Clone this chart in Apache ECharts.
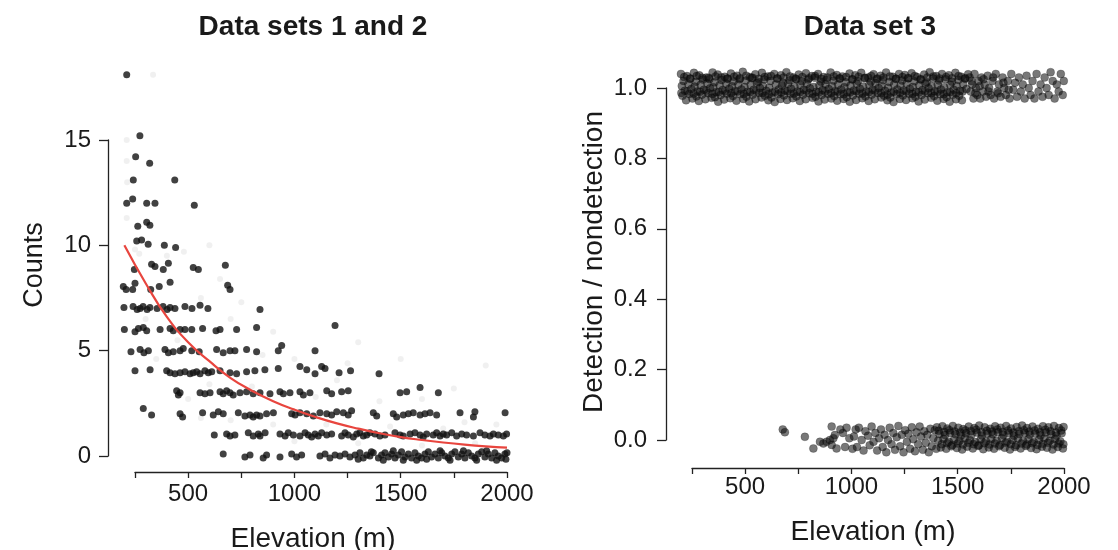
<!DOCTYPE html>
<html><head><meta charset="utf-8">
<script src="https://cdn.jsdelivr.net/npm/echarts@6/dist/echarts.min.js"></script>
<style>html,body{margin:0;padding:0;background:#fff}#c{width:1118px;height:550px}</style>
</head><body><div id="c"></div><script>
// ---------- DATA ----------
const titles = ['Data sets 1 and 2', 'Data set 3'];
const xTitle = 'Elevation (m)';
const yTitles = ['Counts', 'Detection / nondetection'];
const xLabelled = [500, 1000, 1500, 2000];

// Data set 2: counts (elevation, count with small vertical jitter)
const countPts = [
[211,18.1],[273,15.2],[253,14.2],[319,13.9],[242,13.1],[437,13.1],[211,12.0],[239,12.2],[305,12.0],[344,12.0],[529,11.9],
[263,10.9],[305,11.1],[320,10.95],[258,10.2],[281,10.25],[312,10.05],[388,10.0],[441,9.9],[247,8.85],[328,9.1],[344,9.0],
[383,8.85],[407,9.15],[524,8.95],[548,8.85],[675,9.05],[195,8.05],[208,7.9],[239,7.9],[250,8.2],[324,7.9],[364,8.05],
[415,8.25],[686,8.1],[697,7.9],
[198,7.05],[241,7.1],[260,6.95],[274,7.0],[288,7.1],[307,6.95],[320,7.05],[354,7.0],[382,7.1],[401,6.95],[415,7.05],
[438,7.0],[485,7.1],[518,7.0],[556,7.15],[593,7.0],[838,6.95],
[200,6.0],[250,5.9],[266,6.05],[289,6.1],[305,5.95],[368,6.0],[415,6.05],[430,5.95],[462,6.0],[485,6.0],[517,6.0],
[568,6.05],[631,5.95],[650,6.0],[728,6.0],[822,6.1],[1191,6.2],
[231,4.95],[274,5.05],[292,4.9],[313,5.0],[391,5.05],[407,4.9],[430,4.95],[462,5.0],[477,5.1],[517,5.0],[552,4.95],
[634,5.05],[665,4.9],[697,5.0],[720,5.0],[775,5.05],[822,4.95],[924,5.0],[940,5.25],[1097,5.0],
[250,4.05],[321,4.1],[399,4.05],[415,3.95],[438,3.9],[462,3.95],[485,4.0],[509,3.9],[524,3.95],[540,4.0],[556,3.9],
[579,4.05],[595,3.95],[611,4.0],[650,4.05],[697,3.95],[728,3.9],[775,4.0],[814,4.05],[861,4.1],[924,4.15],[1026,4.25],
[1058,4.1],[1097,3.9],[1128,4.25],[1144,4.15],[1210,3.95],[1264,4.05],[1398,3.9],
[446,3.1],[454,2.9],[462,3.0],[556,3.0],[579,2.95],[603,3.0],[650,3.05],[665,2.95],[681,3.1],[697,3.0],[712,2.9],
[744,3.0],[775,3.05],[806,2.95],[838,3.0],[885,2.95],[932,3.05],[948,2.95],[979,3.0],[1026,3.05],[1042,2.9],[1073,3.0],
[1152,3.1],[1175,2.95],[1222,3.05],[1253,3.1],[1497,3.0],[1528,3.05],[1591,3.25],[1677,3.0],
[289,2.25],[328,1.95],[462,2.0],[474,1.85],[568,2.05],[618,1.95],[642,2.1],[665,2.0],[736,2.05],[767,1.9],[791,1.95],
[806,1.85],[822,1.95],[838,1.9],[869,2.0],[901,2.05],[987,2.0],[1003,1.95],[1026,2.05],[1058,2.0],[1089,1.9],[1120,2.05],
[1152,2.0],[1175,1.95],[1199,2.1],[1230,2.05],[1253,1.95],[1269,2.15],[1371,2.05],[1387,1.9],[1465,2.0],[1481,1.85],
[1512,1.95],[1536,2.0],[1559,2.05],[1591,1.95],[1614,2.0],[1638,2.05],[1669,1.95],[1779,2.05],[1842,1.85],[1849,2.1],[1991,2.05],
[623,1.0],[681,1.05],[697,0.95],[720,1.0],[783,1.1],[806,0.95],[830,1.05],[838,0.95],[862,1.1],[932,1.05],[956,0.95],
[971,1.1],[995,1.0],[1026,0.95],[1050,1.1],[1065,1.0],[1081,0.9],[1097,1.05],[1112,0.95],[1128,1.1],[1152,1.0],[1175,1.05],
[1222,0.95],[1238,1.1],[1253,1.0],[1277,0.9],[1293,1.05],[1308,1.1],[1324,0.95],[1340,1.0],[1355,1.1],[1379,1.05],
[1402,0.95],[1426,1.0],[1473,1.1],[1497,1.0],[1512,0.95],[1544,1.05],[1567,1.1],[1591,1.0],[1606,0.9],[1622,1.05],
[1653,1.0],[1669,1.1],[1685,0.95],[1700,1.05],[1716,1.0],[1740,1.1],[1763,0.95],[1787,1.05],[1810,1.0],[1842,0.95],
[1873,1.1],[1896,1.0],[1920,0.95],[1936,1.05],[1959,1.0],[1983,0.95],[1998,1.05],
[665,0.1],[767,-0.05],[791,0.05],[853,-0.1],[869,0.05],[932,-0.05],[987,0.1],[1010,-0.05],[1034,0.05],[1120,0.0],
[1144,0.1],[1167,-0.1],[1191,0.05],[1214,0.0],[1238,0.1],[1261,-0.05],[1285,0.05],[1308,0.15],[1324,-0.1],[1340,0.05],
[1355,0.0],[1371,0.15],[1395,-0.1],[1410,0.05],[1426,0.15],[1442,-0.05],[1457,0.1],[1473,-0.1],[1489,0.05],[1504,0.2],
[1520,-0.05],[1536,0.1],[1551,-0.1],[1567,0.15],[1583,0.0],[1598,-0.1],[1614,0.1],[1630,0.2],[1645,-0.05],[1661,0.1],
[1677,-0.1],[1693,0.15],[1708,0.0],[1724,-0.1],[1740,0.1],[1755,0.2],[1771,-0.05],[1787,0.1],[1802,-0.1],[1818,0.15],
[1834,0.0],[1849,-0.1],[1865,0.1],[1881,0.2],[1896,-0.05],[1912,0.1],[1928,-0.1],[1943,0.15],[1959,0.0],[1975,-0.1],
[1990,0.1],[2000,0.15],[1300,-0.15],[1362,0.2],[1418,-0.2],[1465,0.25],[1512,-0.2],[1575,-0.2],[1622,-0.15],[1685,0.25],
[1732,-0.2],[1795,0.25],[1857,-0.2],[1904,0.25],[1951,-0.2],[1995,-0.15]
];

// Data set 1: faint background points
const faintPts = [
[335,18.1],[211,15.0],[211,14.0],[213,13.0],[211,11.3],[270,9.6],[400,9.5],[480,9.7],[600,10.0],[560,7.5],[700,6.5],
[900,5.9],[1000,4.6],[1200,3.6],[1300,5.4],[1500,4.6],[1600,2.7],[1750,3.2],[1900,4.3],[1800,1.6],[1400,2.6],[1100,2.8],
[800,3.3],[700,1.7],[900,1.5],[1000,0.7],[1300,0.6],[1600,0.5],[1850,0.6],[500,2.7],[600,3.4],[350,4.6],[450,5.5],
[300,6.5],[250,9.8],[650,8.4],[750,7.3],[850,4.8],[1250,4.4],[1950,1.5],[1150,1.5],[1450,1.4],[1700,1.3],[560,1.8]
];

// Fitted curve
const curveElev = [200,300,400,500,600,700,800,900,1000,1100,1200,1300,1400,1500,1600,1700,1800,1900,2000];
const curveVal  = [10.0,8.2,6.6,5.4,4.5,3.7,3.1,2.6,2.2,1.85,1.55,1.3,1.08,0.9,0.76,0.64,0.54,0.46,0.4];

// Data set 3: detections (elevation, jittered 1)
const detPts = [
[198,1.040],[226,1.034],[259,1.043],[284,1.036],[318,1.030],[347,1.044],[371,1.038],[404,1.032],[433,1.041],[461,1.035],[489,1.046],[522,1.031],[548,1.039],[579,1.043],[606,1.033],[637,1.040],[668,1.036],[694,1.045],[727,1.030],[752,1.038],[786,1.042],[814,1.034],[843,1.040],[869,1.031],[902,1.044],[931,1.037],[958,1.033],[991,1.041],[1018,1.036],[1046,1.043],[1079,1.030],[1104,1.039],[1137,1.035],[1163,1.044],[1195,1.032],[1224,1.040],[1251,1.037],[1283,1.042],[1309,1.031],[1342,1.038],[1368,1.045],[1399,1.034],[1426,1.040],[1458,1.036],[1489,1.043],[1517,1.032],[1549,1.039],
[213,1.031],[243,1.027],[272,1.034],[299,1.029],[332,1.025],[361,1.033],[388,1.030],[418,1.026],[448,1.032],[476,1.028],[505,1.035],[535,1.029],[564,1.026],[592,1.031],[622,1.034],[652,1.027],[681,1.030],[711,1.033],[740,1.025],[769,1.031],[800,1.028],[829,1.034],[858,1.026],[887,1.030],[917,1.033],[946,1.027],[975,1.031],[1005,1.025],[1034,1.032],[1064,1.029],[1093,1.034],[1122,1.027],[1151,1.030],[1181,1.033],[1210,1.026],[1240,1.031],[1269,1.028],[1298,1.034],[1327,1.025],[1357,1.030],[1386,1.033],[1415,1.027],[1445,1.031],[1474,1.028],[1504,1.034],[1535,1.026],
[210,1.020],[241,1.026],[268,1.018],[301,1.024],[329,1.029],[356,1.016],[389,1.023],[417,1.027],[446,1.019],[474,1.025],[503,1.021],[531,1.028],[562,1.017],[590,1.024],[619,1.020],[651,1.027],[679,1.015],[709,1.022],[738,1.026],[767,1.019],[797,1.024],[828,1.029],[856,1.018],[884,1.023],[916,1.021],[944,1.027],[974,1.016],[1003,1.024],[1031,1.020],[1062,1.028],[1091,1.018],[1120,1.025],[1149,1.022],[1178,1.017],[1209,1.026],[1238,1.021],[1266,1.028],[1296,1.019],[1325,1.024],[1354,1.016],[1384,1.027],[1412,1.021],[1442,1.025],[1473,1.018],[1503,1.023],[1534,1.028],
[202,1.006],[233,1.011],[262,1.004],[291,1.009],[322,1.013],[350,1.002],[380,1.008],[411,1.012],[438,1.005],[468,1.010],[497,1.003],[526,1.009],[555,1.014],[584,1.006],[613,1.001],[644,1.010],[673,1.007],[702,1.012],[732,1.004],[760,1.009],[790,1.013],[821,1.003],[849,1.008],[878,1.011],[909,1.005],[937,1.010],[967,1.002],[996,1.007],[1025,1.012],[1055,1.004],[1084,1.009],[1113,1.014],[1143,1.006],[1172,1.001],[1201,1.010],[1231,1.007],[1260,1.012],[1289,1.003],[1319,1.008],[1348,1.013],[1377,1.005],[1406,1.010],[1436,1.002],[1465,1.009],[1495,1.006],[1526,1.011],
[216,0.992],[247,0.997],[276,0.990],[306,0.995],[335,0.999],[364,0.988],[394,0.994],[425,0.998],[452,0.991],[483,0.996],[511,0.989],[540,0.995],[570,1.000],[599,0.992],[628,0.987],[658,0.996],[687,0.993],[716,0.998],[746,0.990],[776,0.995],[805,0.999],[835,0.989],[864,0.994],[893,0.997],[923,0.991],[952,0.996],[982,0.988],[1011,0.993],[1040,0.998],[1070,0.990],[1099,0.995],[1128,1.000],[1158,0.992],[1187,0.987],[1216,0.996],[1246,0.993],[1275,0.998],[1304,0.989],[1334,0.994],[1363,0.999],[1392,0.991],[1421,0.996],[1451,0.988],[1481,0.995],[1511,0.992],[1541,0.997],
[200,0.986],[229,0.990],[258,0.984],[288,0.989],[317,0.992],[346,0.983],[376,0.988],[406,0.991],[435,0.985],[464,0.990],[494,0.983],[523,0.988],[552,0.992],[582,0.986],[611,0.982],[641,0.989],[670,0.987],[699,0.991],[729,0.984],[758,0.988],[788,0.992],[817,0.983],[846,0.987],[876,0.990],[905,0.985],[935,0.989],[964,0.982],[993,0.987],[1023,0.991],[1052,0.984],[1082,0.988],[1111,0.992],[1140,0.985],[1170,0.981],[1199,0.989],[1229,0.986],[1258,0.990],[1287,0.983],[1317,0.987],[1346,0.991],[1376,0.985],[1405,0.989],[1434,0.982],[1464,0.988],[1493,0.985],[1523,0.990],
[205,0.978],[237,0.983],[271,0.976],[297,0.981],[326,0.985],[358,0.974],[385,0.980],[414,0.984],[443,0.977],[477,0.982],[506,0.975],[535,0.981],[566,0.986],[593,0.978],[624,0.973],[655,0.982],[683,0.979],[713,0.984],[741,0.976],[772,0.981],[801,0.985],[831,0.975],[860,0.980],[890,0.983],[919,0.977],[948,0.982],[978,0.974],[1007,0.979],[1036,0.984],[1066,0.976],[1095,0.981],[1124,0.986],[1154,0.978],[1183,0.973],[1213,0.982],[1242,0.979],[1271,0.984],[1301,0.975],[1330,0.980],[1360,0.985],[1389,0.977],[1418,0.982],[1448,0.974],[1477,0.981],[1507,0.978],
[222,0.965],[252,0.970],[282,0.963],[313,0.968],[342,0.972],[373,0.961],[401,0.967],[430,0.971],[459,0.964],[491,0.969],[519,0.962],[549,0.968],[577,0.973],[609,0.965],[639,0.960],[666,0.969],[697,0.966],[724,0.971],[757,0.963],[785,0.968],[817,0.972],[845,0.962],[874,0.967],[905,0.970],[933,0.964],[963,0.969],[992,0.961],[1022,0.966],[1051,0.971],[1081,0.963],[1110,0.968],[1140,0.973],[1169,0.965],[1198,0.960],[1228,0.969],[1257,0.966],[1287,0.971],[1316,0.962],[1345,0.967],[1375,0.972],[1404,0.964],[1434,0.969],[1462,0.961],[1492,0.968],[1520,0.965],
[1556,1.03],[1561,0.99],[1568,1.01],[1574,0.97],[1579,1.04],[1586,1.0],[1592,0.98],[1598,1.02],[1606,0.97],[1612,1.03],[1619,0.99],[1627,1.01],[1634,0.975],[1641,1.035],[1648,1.0],[1655,0.98],[1663,1.02],[1671,0.97],[1679,1.04],[1686,0.99],[1694,1.01],[1702,0.975],[1711,1.03],[1719,1.0],[1727,0.98],[1736,1.02],[1744,0.97],[1752,1.04],[1761,0.995],[1770,1.015],[1779,0.975],[1788,1.03],[1797,0.99],[1806,1.01],[1815,0.97],[1824,1.035],[1834,1.0],[1843,0.98],[1852,1.02],[1861,0.97],[1871,1.04],[1880,0.99],[1890,1.01],[1899,0.975],[1909,1.03],[1918,1.0],[1928,0.98],[1937,1.045],[1947,1.02],[1956,0.97],[1966,1.01],[1975,0.99],[1985,1.04],[1994,0.98],[1999,1.02],
[1565,1.02],[1583,0.985],[1603,1.005],[1622,1.025],[1645,0.99],[1667,1.03],[1690,0.985],[1715,1.015],[1740,0.995]
];

// Data set 3: nondetections (elevation, jittered 0)
const nondetPts = [
[677,0.030],[687,0.022],[781,0.009],[821,-0.024],[852,-0.005],[868,-0.010],[883,-0.005],[899,0.000],[907,-0.014],[915,0.005],
[907,0.038],[922,0.014],[930,-0.024],[948,0.030],[960,0.020],[970,-0.020],[977,0.035],[990,0.005],[1005,-0.025],[1020,0.030],
[1012,0.010],[1026,-0.020],[1035,0.035],[1048,0.000],[1057,-0.030],[1066,0.025],[1078,0.012],[1086,-0.015],[1095,0.038],[1104,-0.005],
[1113,0.020],[1121,-0.030],[1130,0.005],[1139,0.030],[1147,-0.020],[1156,0.015],[1164,-0.035],[1172,0.000],[1180,0.035],[1189,-0.012],
[1197,0.020],[1205,-0.028],[1213,0.008],[1221,0.040],[1229,-0.018],[1237,0.015],[1245,-0.035],[1253,0.028],[1261,-0.005],[1268,0.018],
[1276,-0.025],[1284,0.036],[1291,0.002],[1299,-0.032],[1306,0.022],[1314,-0.012],[1321,0.038],[1328,0.010],[1336,-0.028],[1343,0.025],
[1350,-0.008],[1357,0.015],[1364,-0.035],[1371,0.032],[1378,-0.018],[1385,0.005],[1392,0.028],[1399,-0.025],
[1402,0.036],[1428,0.039],[1451,0.033],[1477,0.040],[1503,0.035],[1526,0.031],[1552,0.038],[1578,0.034],[1601,0.041],[1627,0.036],[1653,0.032],[1676,0.039],[1702,0.035],[1728,0.040],[1751,0.033],[1777,0.037],[1803,0.041],[1826,0.034],[1852,0.038],[1878,0.032],[1901,0.039],[1927,0.036],[1953,0.040],[1976,0.034],[1998,0.037],
[1410,0.026],[1436,0.023],[1461,0.028],[1486,0.024],[1512,0.021],[1537,0.027],[1562,0.025],[1587,0.029],[1612,0.022],[1637,0.026],[1662,0.024],[1687,0.030],[1712,0.023],[1737,0.027],[1762,0.021],[1787,0.025],[1812,0.028],[1837,0.024],[1862,0.027],[1887,0.022],[1912,0.029],[1937,0.025],[1962,0.021],[1987,0.027],
[1414,0.017],[1440,0.014],[1464,0.020],[1490,0.016],[1515,0.012],[1539,0.019],[1565,0.015],[1590,0.021],[1614,0.013],[1640,0.018],[1665,0.016],[1689,0.022],[1715,0.014],[1740,0.019],[1764,0.012],[1790,0.017],[1815,0.020],[1839,0.015],[1865,0.018],[1890,0.013],[1914,0.021],[1940,0.016],[1965,0.012],[1989,0.019],
[1408,-0.002],[1433,0.003],[1458,-0.005],[1483,0.001],[1508,-0.003],[1533,0.004],[1558,-0.001],[1583,-0.006],[1608,0.002],[1633,-0.004],[1658,0.003],[1683,-0.002],[1708,0.005],[1733,-0.005],[1758,0.000],[1783,0.004],[1808,-0.003],[1833,0.002],[1858,-0.006],[1883,0.001],[1908,0.004],[1933,-0.002],[1958,0.003],[1983,-0.004],
[1425,-0.012],[1450,-0.009],[1475,-0.014],[1500,-0.010],[1525,-0.013],[1550,-0.008],[1575,-0.012],[1600,-0.015],[1625,-0.009],[1650,-0.013],[1675,-0.010],[1700,-0.014],[1725,-0.008],[1750,-0.012],[1775,-0.015],[1800,-0.010],[1825,-0.013],[1850,-0.009],[1875,-0.014],[1900,-0.011],[1925,-0.008],[1950,-0.013],[1975,-0.010],[1997,-0.012],
[1420,-0.021],[1446,-0.025],[1470,-0.018],[1496,-0.023],[1521,-0.027],[1545,-0.019],[1571,-0.024],[1596,-0.017],[1620,-0.026],[1646,-0.021],[1671,-0.025],[1695,-0.018],[1721,-0.022],[1746,-0.027],[1770,-0.020],[1796,-0.024],[1821,-0.017],[1845,-0.023],[1871,-0.026],[1896,-0.019],[1920,-0.022],[1946,-0.027],[1971,-0.020],[1995,-0.024]
];

// ---------- CHART ----------
const FONT = '"Liberation Sans", Arial, sans-serif';
const TXT = '#1a1a1a';
const AX = '#222222';
const curve = curveElev.map((e, i) => [e, curveVal[i]]);

function xAx(grid, offset, margin) {
  return {
    type: 'value', gridIndex: grid, min: 250, max: 2000, interval: 250, offset: offset,
    axisLine: { show: true, onZero: false, lineStyle: { color: AX, width: 1.3 } },
    axisTick: { show: true, length: 6, lineStyle: { color: AX, width: 1.3 } },
    axisLabel: { fontSize: 24, fontFamily: FONT, color: TXT, margin: margin,
      formatter: v => xLabelled.indexOf(v) >= 0 ? String(v) : '' },
    splitLine: { show: false }
  };
}
function yAx(grid, offset, min, max, interval, dec, margin) {
  return {
    type: 'value', gridIndex: grid, min: min, max: max, interval: interval, offset: offset,
    axisLine: { show: true, onZero: false, lineStyle: { color: AX, width: 1.3 } },
    axisTick: { show: true, length: 9, lineStyle: { color: AX, width: 1.3 } },
    axisLabel: { fontSize: 24, fontFamily: FONT, color: TXT, margin: margin,
      formatter: v => dec ? v.toFixed(1) : String(v) },
    splitLine: { show: false }
  };
}
function hidden(grid, min, max) {
  return { type: 'value', gridIndex: grid, min: min, max: max, show: false,
    axisLine: { show: false }, axisTick: { show: false }, axisLabel: { show: false }, splitLine: { show: false } };
}
function txt(s, x, y, size, bold, rot) {
  return { type: 'text', x: x, y: y, rotation: rot || 0, silent: true,
    style: { text: s, fill: TXT, fontSize: size, fontFamily: FONT, fontWeight: bold ? 'bold' : 'normal',
      align: 'center', verticalAlign: 'middle', textAlign: 'center', textVerticalAlign: 'middle' } };
}

const chart = echarts.init(document.getElementById('c'), null, { renderer: 'canvas' });
const dotStyle = { color: 'rgba(15,15,15,0.7)', borderColor: 'rgba(0,0,0,0.4)', borderWidth: 0.6 };
chart.setOption({
  animation: false,
  backgroundColor: '#ffffff',
  grid: [
    { left: 135, top: 140, width: 372, height: 316 },
    { left: 692, top: 88, width: 372, height: 352 },
    // same scale as grid 0, widened to start at elevation 200 (for the fitted curve)
    { left: 124.37, top: 140, width: 382.63, height: 316 }
  ],
  xAxis: [xAx(0, 16, 10), xAx(1, 28, 7), hidden(2, 200, 2000)],
  yAxis: [yAx(0, 27, 0, 15, 5, false, 17), yAx(1, 26, 0, 1, 0.2, true, 19), hidden(2, 0, 15)],
  graphic: [
    txt(titles[0], 313, 27, 28, true),
    txt(titles[1], 870, 27, 28, true),
    txt(xTitle, 313, 539, 28, false),
    txt(xTitle, 873, 532, 28, false),
    txt(yTitles[0], 35, 265, 27, false, Math.PI / 2),
    txt(yTitles[1], 594, 262, 28, false, Math.PI / 2)
  ],
  series: [
    { type: 'scatter', xAxisIndex: 0, yAxisIndex: 0, data: faintPts, clip: false, silent: true,
      symbolSize: 6, itemStyle: { color: '#ececec' }, z: 1 },
    { type: 'scatter', xAxisIndex: 0, yAxisIndex: 0, data: countPts, clip: false, silent: true,
      symbolSize: 7, itemStyle: { color: '#111111' }, z: 2 },
    { type: 'line', xAxisIndex: 2, yAxisIndex: 2, data: curve, clip: false, silent: true, smooth: true,
      showSymbol: false, symbol: 'none', lineStyle: { color: '#e8453e', width: 2.2 }, z: 3 },
    { type: 'scatter', xAxisIndex: 1, yAxisIndex: 1, data: detPts, clip: false, silent: true,
      symbolSize: 8, itemStyle: dotStyle, z: 2 },
    { type: 'scatter', xAxisIndex: 1, yAxisIndex: 1, data: nondetPts, clip: false, silent: true,
      symbolSize: 8, itemStyle: dotStyle, z: 2 }
  ]
});
</script></body></html>
